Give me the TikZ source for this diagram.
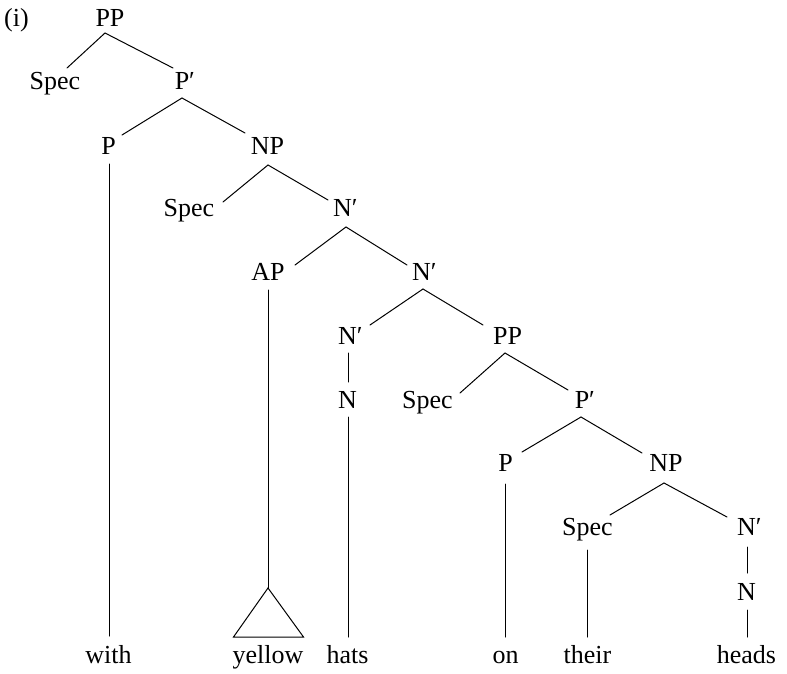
\documentclass[tikz,border=0pt]{standalone}
\usepackage{fontspec}
\setmainfont{Liberation Serif}
\usetikzlibrary{calc}
\newcommand\treefont{\fontsize{26}{30}\selectfont}
\newcommand\pr[1]{#1\rlap{′}}
\begin{document}
\begin{tikzpicture}[x=1pt,y=-1pt,
  tn/.style={anchor=base, inner sep=0pt, font=\treefont},
  br/.style={line width=1pt, line cap=round}]
\useasboundingbox (0,0) rectangle (787,674);
% nodes
\node[tn] (lab) at (16.5,27) {(i)};
\node[tn] (pp0) at (110,27) {PP};
\node[tn] (spec1) at (55,90) {Spec};
\node[tn] (pb1) at (182,90) {\pr{P}};
\node[tn] (p2) at (108.5,154) {P};
\node[tn] (np2) at (267.5,154) {NP};
\node[tn] (spec3) at (189,216) {Spec};
\node[tn] (nb3) at (342.5,216) {\pr{N}};
\node[tn] (ap4) at (268,280) {AP};
\node[tn] (nb4) at (421.5,280) {\pr{N}};
\node[tn] (nb5) at (347.5,344) {\pr{N}};
\node[tn] (pp5) at (507.5,344) {PP};
\node[tn] (n6) at (347.5,408) {N};
\node[tn] (spec6) at (427.5,408) {Spec};
\node[tn] (pb6) at (582,408) {\pr{P}};
\node[tn] (p7) at (505.5,471) {P};
\node[tn] (np7) at (666,471) {NP};
\node[tn] (spec8) at (587.5,535) {Spec};
\node[tn] (nb8) at (746.5,535) {\pr{N}};
\node[tn] (n9) at (746.5,600) {N};
\node[tn] (with) at (108.5,663) {with};
\node[tn] (yellow) at (268,663) {yellow};
\node[tn] (hats) at (347.5,663) {hats};
\node[tn] (on) at (505.5,663) {on};
\node[tn] (their) at (587.5,663) {their};
\node[tn] (heads) at (746.5,663) {heads};
\coordinate (apex) at ($(yellow.base)+(0,-75)$);
% sloped branches
\draw[br] ($(pp0.base)+(-5,6)$) -- ($(spec1.base)+(12,-22)$);
\draw[br] ($(pp0.base)+(-5,6)$) -- ($(pb1.base)+(-9,-22)$);
\draw[br] ($(pb1.base)+(0,8)$) -- ($(p2.base)+(13.5,-19)$);
\draw[br] ($(pb1.base)+(0,8)$) -- ($(np2.base)+(-22.5,-21)$);
\draw[br] ($(np2.base)+(0.5,11)$) -- ($(spec3.base)+(34,-14)$);
\draw[br] ($(np2.base)+(0.5,11)$) -- ($(nb3.base)+(-14.5,-16)$);
\draw[br] ($(nb3.base)+(3.5,11)$) -- ($(ap4.base)+(27,-15)$);
\draw[br] ($(nb3.base)+(3.5,11)$) -- ($(nb4.base)+(-14.5,-15)$);
\draw[br] ($(nb4.base)+(1.5,9)$) -- ($(nb5.base)+(22.5,-19)$);
\draw[br] ($(nb4.base)+(1.5,9)$) -- ($(pp5.base)+(-24.5,-19)$);
\draw[br] ($(pp5.base)+(-2.5,9)$) -- ($(spec6.base)+(32.5,-15)$);
\draw[br] ($(pp5.base)+(-2.5,9)$) -- ($(pb6.base)+(-14,-18)$);
\draw[br] ($(pb6.base)+(-1,9)$) -- ($(p7.base)+(16.5,-19)$);
\draw[br] ($(pb6.base)+(-1,9)$) -- ($(np7.base)+(-24,-18)$);
\draw[br] ($(np7.base)+(-2,12)$) -- ($(spec8.base)+(22.5,-20)$);
\draw[br] ($(np7.base)+(-2,12)$) -- ($(nb8.base)+(-19.5,-18)$);
% vertical branches
\draw[br] ($(nb5.base)+(0.5,9)$) -- ($(n6.base)+(0.5,-26)$);
\draw[br] ($(nb8.base)+(0.5,12)$) -- ($(n9.base)+(0.5,-27)$);
\draw[br] ($(n9.base)+(0.5,10)$) -- ($(heads.base)+(0.5,-26)$);
\draw[br] ($(n6.base)+(0.5,9)$) -- ($(hats.base)+(0.5,-26)$);
\draw[br] ($(p7.base)+(-0.5,13)$) -- ($(on.base)+(-0.5,-26)$);
\draw[br] ($(spec8.base)+(-0.5,15)$) -- ($(their.base)+(-0.5,-26)$);
\draw[br] ($(p2.base)+(0.5,10)$) -- ($(with.base)+(0.5,-27)$);
\draw[br] ($(ap4.base)+(0,10)$) -- (apex);
\draw[br, line join=miter] (apex) -- ($(yellow.base)+(-34.5,-26)$) -- ($(yellow.base)+(35.5,-26)$) -- cycle;
\end{tikzpicture}
\end{document}
